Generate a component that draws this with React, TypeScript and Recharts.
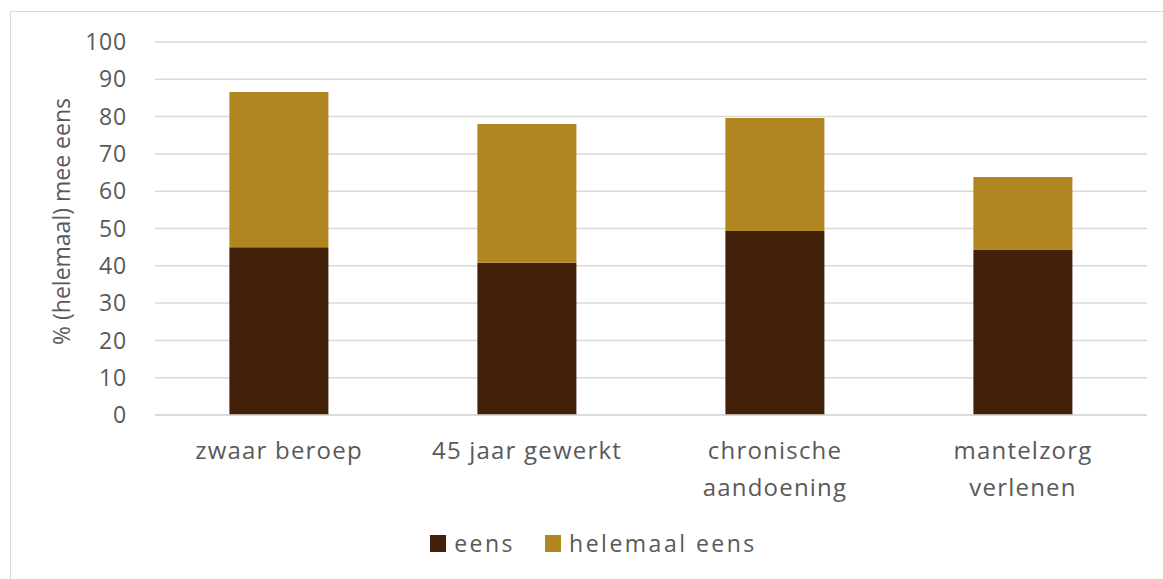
import React from 'react'
import { BarChart, Bar, XAxis, YAxis, CartesianGrid, Legend, Label } from 'recharts'

const categories = ['zwaar beroep', '45 jaar gewerkt', 'chronische\naandoening', 'mantelzorg\nverlenen']
const eens = [45.0, 40.8, 49.3, 44.4]
const helemaalEens = [41.6, 37.2, 30.3, 19.4]
const yTicks = [0, 10, 20, 30, 40, 50, 60, 70, 80, 90, 100]

const data = categories.map((name, i) => ({
  name,
  eens: eens[i],
  helemaal: helemaalEens[i],
}))

const FONT = '"Open Sans", "Noto Sans", sans-serif'
const TEXT = '#595959'

function CategoryTick(props: any) {
  const { x, y, payload } = props
  const lines = String(payload.value).split('\n')
  return (
    <g transform={`translate(${x},${y})`}>
      {lines.map((line: string, i: number) => (
        <text
          key={i}
          x={0}
          y={i * 37}
          dy={36}
          textAnchor="middle"
          fill={TEXT}
          fontSize={24}
          fontFamily={FONT}
          letterSpacing={1.2}
        >
          {line}
        </text>
      ))}
    </g>
  )
}

function LegendContent() {
  const items = [
    { label: 'eens', color: '#43200A' },
    { label: 'helemaal eens', color: '#B08620' },
  ]
  return (
    <div style={{ display: 'flex', justifyContent: 'center', alignItems: 'center', fontFamily: FONT, paddingLeft: 24 }}>
      {items.map((it, i) => (
        <div key={it.label} style={{ display: 'flex', alignItems: 'center', marginRight: i === 0 ? 30 : 0 }}>
          <span style={{ width: 16, height: 17, background: it.color, display: 'inline-block', marginRight: 8 }} />
          <span style={{ color: TEXT, fontSize: 23, letterSpacing: 2.5 }}>{it.label}</span>
        </div>
      ))}
    </div>
  )
}

export default function App() {
  return (
    <div style={{ position: 'absolute', left: 0, top: 0, width: 1163, height: 579, background: '#fff', overflow: 'hidden' }}>
      <div
        style={{
          position: 'absolute',
          left: 10,
          top: 11,
          width: 1200,
          height: 600,
          borderLeft: '1.5px solid #d9d9d9',
          borderTop: '1.5px solid #d9d9d9',
        }}
      />
      <div style={{ position: 'absolute', left: 0, top: 0 }}>
        <BarChart
          width={1163}
          height={579}
          data={data}
          margin={{ top: 42, right: 16, left: 0, bottom: 0 }}
          barCategoryGap="30%"
        >
          <CartesianGrid vertical={false} stroke="#d9d9d9" strokeWidth={1.5} />
          <XAxis
            dataKey="name"
            tick={<CategoryTick />}
            tickLine={false}
            axisLine={{ stroke: '#d9d9d9', strokeWidth: 1.5 }}
            height={124}
            interval={0}
          />
          <YAxis
            width={155}
            domain={[0, 100]}
            ticks={yTicks}
            tickLine={false}
            axisLine={false}
            tickMargin={22}
            tick={{ fill: TEXT, fontSize: 23, fontFamily: FONT, letterSpacing: 0.8 }}
          >
            <Label
              value="% (helemaal) mee eens"
              angle={-90}
              position="insideLeft"
              offset={62}
              dy={-7}
              fill={TEXT}
              fontSize={23}
              fontFamily={FONT}
              style={{ textAnchor: 'middle' }}
            />
          </YAxis>
          <Legend
            height={40}
            content={<LegendContent />}
            wrapperStyle={{ top: 527, left: 0, width: 1163 }}
          />
          <Bar dataKey="eens" stackId="a" fill="#43200A" isAnimationActive={false} />
          <Bar dataKey="helemaal" stackId="a" fill="#B08620" isAnimationActive={false} />
        </BarChart>
      </div>
    </div>
  )
}
